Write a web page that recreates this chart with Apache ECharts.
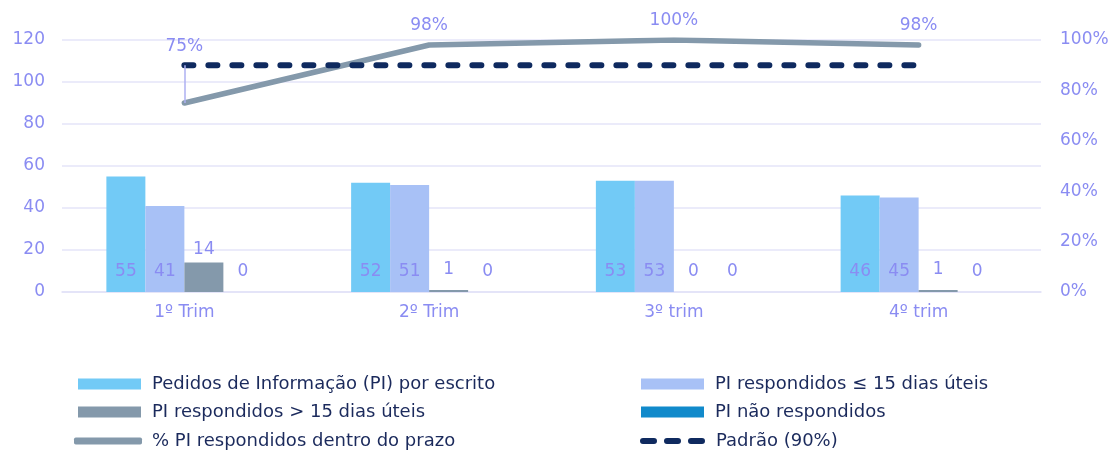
<!DOCTYPE html>
<html><head><meta charset="utf-8">
<script src="https://cdn.jsdelivr.net/npm/echarts@6/dist/echarts.min.js"></script>
<style>html,body{margin:0;padding:0;background:#fff}#c{width:1116px;height:450px}</style>
</head><body><div id="c"></div>
<script>
const categories = ['1º Trim', '2º Trim', '3º trim', '4º trim'];
const pedidos = [55, 52, 53, 46];
const ate15 = [41, 51, 53, 45];
const mais15 = [14, 1, 0, 1];
const naoResp = [0, 0, 0, 0];
const pctPrazo = [75, 98, 100, 98];
const padrao = [90, 90, 90, 90];
const leftTicks = { min: 0, max: 120, interval: 20 };
const rightTicks = { min: 0, max: 100, interval: 20 };

const FONT = 'DejaVu Sans';
const LBL = '#8a8cf2';
const NAVY = '#1b2a5c';
const GREY = '#8499ab';
const DASH = '#0f2a5f';
const FS = 17;
const LFS = 18;

const names = {
  s1: 'Pedidos de Informação (PI) por escrito',
  s2: 'PI respondidos ≤ 15 dias úteis',
  s3: 'PI respondidos > 15 dias úteis',
  s4: 'PI não respondidos',
  l1: '% PI respondidos dentro do prazo',
  l2: 'Padrão (90%)'
};

const chart = echarts.init(document.getElementById('c'), null, { renderer: 'canvas' });
const barLabelIn = { show: true, position: 'insideBottom', distance: 12, color: LBL, fontSize: FS, fontFamily: FONT };
const barLabelTop = { show: true, position: 'top', distance: 12, color: LBL, fontSize: FS, fontFamily: FONT };

function leg(name, left, top, opts) {
  return Object.assign({
    left: left, top: top, itemWidth: 63, itemHeight: 11, padding: 0, icon: 'rect',
    selectedMode: false,
    textStyle: { color: NAVY, fontSize: LFS, fontFamily: FONT, padding: [0, 0, 0, 6] },
    data: [name]
  }, opts || {});
}
const dashIcon = 'path://M3 0H14A3 3 0 0 1 14 6H3A3 3 0 0 1 3 0Z M27 0H38A3 3 0 0 1 38 6H27A3 3 0 0 1 27 0Z M51 0H62A3 3 0 0 1 62 6H51A3 3 0 0 1 51 0Z';

chart.setOption({
  animation: false,
  textStyle: { fontFamily: FONT },
  grid: { left: 62, right: 75, top: 40, bottom: 158 },
  legend: [
    leg(names.s1, 78, 375),
    leg(names.s3, 78, 403),
    leg(names.l1, 74, 432, { itemWidth: 68, itemHeight: 7, icon: 'roundRect', textStyle: { color: NAVY, fontSize: LFS, fontFamily: FONT, padding: [0, 0, 0, 5] } }),
    leg(names.s2, 641, 375),
    leg(names.s4, 641, 403),
    leg(names.l2, 640, 432, { itemWidth: 65, itemHeight: 6, icon: dashIcon, textStyle: { color: NAVY, fontSize: LFS, fontFamily: FONT, padding: [0, 0, 0, 6] } })
  ],
  xAxis: {
    type: 'category', data: categories,
    axisLine: { lineStyle: { color: '#e2e2f8', width: 1.5 } }, axisTick: { show: false },
    axisLabel: { color: LBL, fontSize: FS, margin: 12, fontFamily: FONT }
  },
  yAxis: [
    { type: 'value', min: leftTicks.min, max: leftTicks.max, interval: leftTicks.interval,
      axisLabel: { color: LBL, fontSize: FS, margin: 17, fontFamily: FONT },
      splitLine: { lineStyle: { color: '#e4e4f8', width: 1.5 } } },
    { type: 'value', min: rightTicks.min, max: rightTicks.max, interval: rightTicks.interval,
      axisLabel: { color: LBL, fontSize: FS, margin: 19, formatter: '{value}%', fontFamily: FONT },
      splitLine: { show: false } }
  ],
  series: [
    { name: names.s1, type: 'bar', data: pedidos, barWidth: 39, barGap: '0%',
      itemStyle: { color: '#72caf6' }, label: barLabelIn },
    { name: names.s2, type: 'bar', data: ate15, barWidth: 39, barGap: '0%',
      itemStyle: { color: '#a8c1f6' }, label: barLabelIn },
    { name: names.s3, type: 'bar', barWidth: 39, barGap: '0%',
      data: mais15.map(v => v > 5 ? { value: v, label: { distance: 5 } } : v),
      itemStyle: { color: GREY }, label: barLabelTop },
    { name: names.s4, type: 'bar', data: naoResp, barWidth: 39, barGap: '0%',
      itemStyle: { color: '#118acb' }, label: barLabelTop },
    { name: names.l1, type: 'line', yAxisIndex: 1, symbol: 'circle', symbolSize: 3, showSymbol: true,
      data: pctPrazo.map((v, i) => i === 0
        ? { value: v, label: { distance: 46 } }
        : v),
      lineStyle: { color: GREY, width: 5.5, cap: 'round' }, itemStyle: { color: GREY },
      label: { show: true, position: 'top', distance: 9, color: LBL, fontSize: FS, formatter: '{c}%', fontFamily: FONT },
      markLine: { silent: true, symbol: 'none', label: { show: false },
        lineStyle: { color: '#aeb0f2', width: 1.5, type: 'solid' },
        data: [[{ xAxis: categories[0], yAxis: pctPrazo[0] }, { xAxis: categories[0], yAxis: padrao[0] }]] },
      z: 3 },
    { name: names.l2, type: 'line', yAxisIndex: 1, symbol: 'none', data: padrao,
      lineStyle: { color: DASH, width: 6, type: [9, 15], cap: 'round' }, itemStyle: { color: DASH },
      z: 4 }
  ]
});
</script></body></html>
